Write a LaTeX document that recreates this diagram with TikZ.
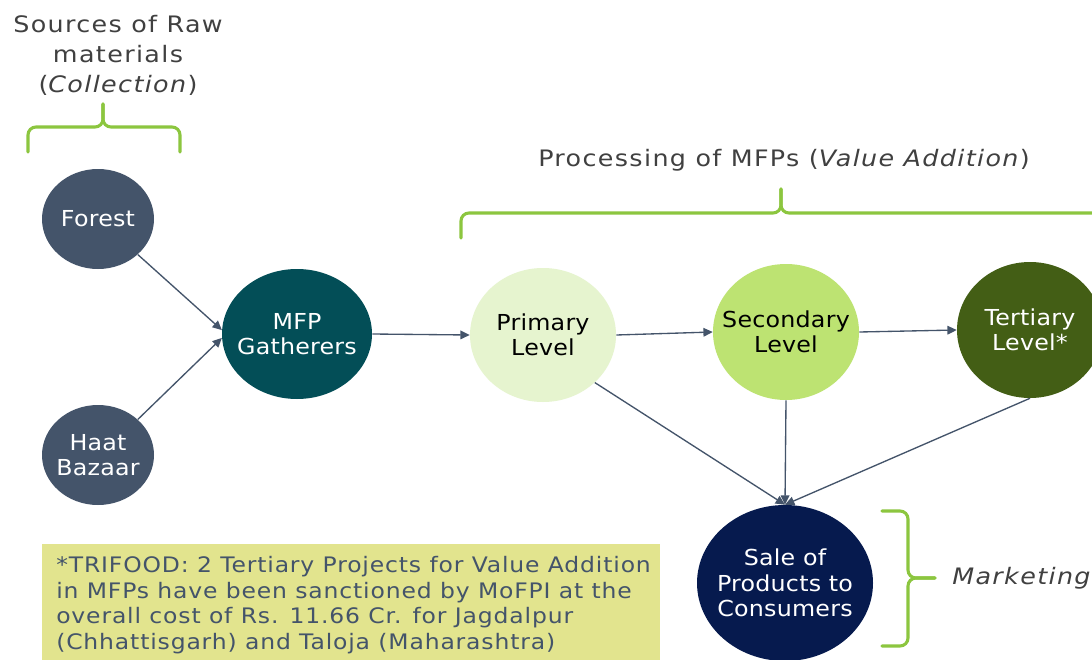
\documentclass[tikz,border=0pt]{standalone}
\usepackage{fontspec}
\setmainfont{DejaVu Sans}
\newfontfamily\titlefont[FakeStretch=1.12,LetterSpace=6]{DejaVu Sans}
\newfontfamily\bubfont[FakeStretch=1.08,LetterSpace=1]{DejaVu Sans}
\newfontfamily\notefont[FakeStretch=1.1,LetterSpace=4]{DejaVu Sans}
\usetikzlibrary{arrows.meta,shapes.geometric}
\definecolor{slate}{HTML}{44546A}
\definecolor{teal}{HTML}{034E57}
\definecolor{prim}{HTML}{E6F4CF}
\definecolor{seco}{HTML}{BDE372}
\definecolor{tert}{HTML}{435E15}
\definecolor{navy}{HTML}{061A4E}
\definecolor{bracegreen}{HTML}{8CC63F}
\definecolor{notebg}{HTML}{E2E48E}
\definecolor{titlegray}{HTML}{404040}
\tikzset{
  bub/.style={ellipse, inner sep=0pt, draw=none},
  bubtxt/.style={font=\bubfont\fontsize{16.5pt}{19pt}\selectfont, align=center, inner sep=0pt},
  conn/.style={draw=slate, line width=1pt, -{Triangle[length=7pt,width=6.5pt]}},
  bracestyle/.style={draw=bracegreen, line width=2.3pt, rounded corners=6pt, line cap=round},
  title/.style={font=\titlefont\fontsize{17pt}{22.5pt}\selectfont, text=titlegray, align=center, inner sep=0pt},
}
\begin{document}
\begin{tikzpicture}[x=0.75pt,y=-0.75pt]
\clip (0,0) rectangle (1092,660);
\fill[white] (0,0) rectangle (1092,660);

% titles
\node[title] (tcoll) at (118,55) {Sources of Raw\\materials\\(\textit{Collection})};
\node[title] (tproc) at (784,160) {Processing of MFPs (\textit{Value Addition})};
\node[title, anchor=west] (tmark) at (952,578) {\textit{Marketing}};

% braces
\draw[bracestyle] (28,152) -- (28,127) -- (103,127) -- (103,104);
\draw[bracestyle] (103,104) -- (103,127) -- (180,127) -- (180,152);
\draw[bracestyle] (461,238) -- (461,213) -- (781,213) -- (781,189);
\draw[bracestyle] (781,189) -- (781,213) -- (1110,213) -- (1110,238);
\draw[bracestyle] (882,511) -- (908,511) -- (908,578) -- (935,578);
\draw[bracestyle] (935,578) -- (908,578) -- (908,646) -- (882,646);

% nodes
\node[bub, fill=slate, minimum width=84pt, minimum height=75pt,
      label={[bubtxt, text=white]center:Forest}] (forest) at (98,219) {};
\node[bub, fill=slate, minimum width=84pt, minimum height=75pt,
      label={[bubtxt, text=white]center:{Haat\\Bazaar}}] (haat) at (98,455) {};
\node[bub, fill=teal, minimum width=112.5pt, minimum height=97.5pt,
      label={[bubtxt, text=white]center:{MFP\\Gatherers}}] (mfp) at (297,334) {};
\node[bub, fill=prim, minimum width=109.5pt, minimum height=100.5pt,
      label={[bubtxt, text=black]center:{Primary\\Level}}] (primary) at (543,335) {};
\node[bub, fill=seco, minimum width=109.5pt, minimum height=102pt,
      label={[bubtxt, text=black]center:{Secondary\\Level}}] (secondary) at (786,332) {};
\node[bub, fill=tert, minimum width=109.5pt, minimum height=102pt,
      label={[bubtxt, text=white]center:{Tertiary\\Level*}}] (tertiary) at (1030,330) {};
\node[bub, fill=navy, minimum width=132pt, minimum height=117pt,
      label={[bubtxt, text=white]center:{Sale of\\Products to\\Consumers}}] (sale) at (785,583) {};

% connectors
\draw[conn] (forest.south east) -- (mfp.177);
\draw[conn] (haat.north east) -- (mfp.183);
\draw[conn] (mfp.east) -- (primary.west);
\draw[conn] (primary.east) -- (secondary.west);
\draw[conn] (secondary.east) -- (tertiary.west);
\draw[conn] (primary.south east) -- (sale.north);
\draw[conn] (secondary.south) -- (sale.north);
\draw[conn] (tertiary.south) -- (sale.north);

% note
\fill[notebg] (42,544) rectangle (660,662);
\node[anchor=north west, align=left, inner sep=0pt, text=slate,
      font=\notefont\fontsize{16pt}{19.3pt}\selectfont] (note) at (56,556)
  {*TRIFOOD: 2 Tertiary Projects for Value Addition\\
   in MFPs have been sanctioned by MoFPI at the\\
   overall cost of Rs. 11.66 Cr. for Jagdalpur\\
   (Chhattisgarh) and Taloja (Maharashtra)};
\end{tikzpicture}
\end{document}
